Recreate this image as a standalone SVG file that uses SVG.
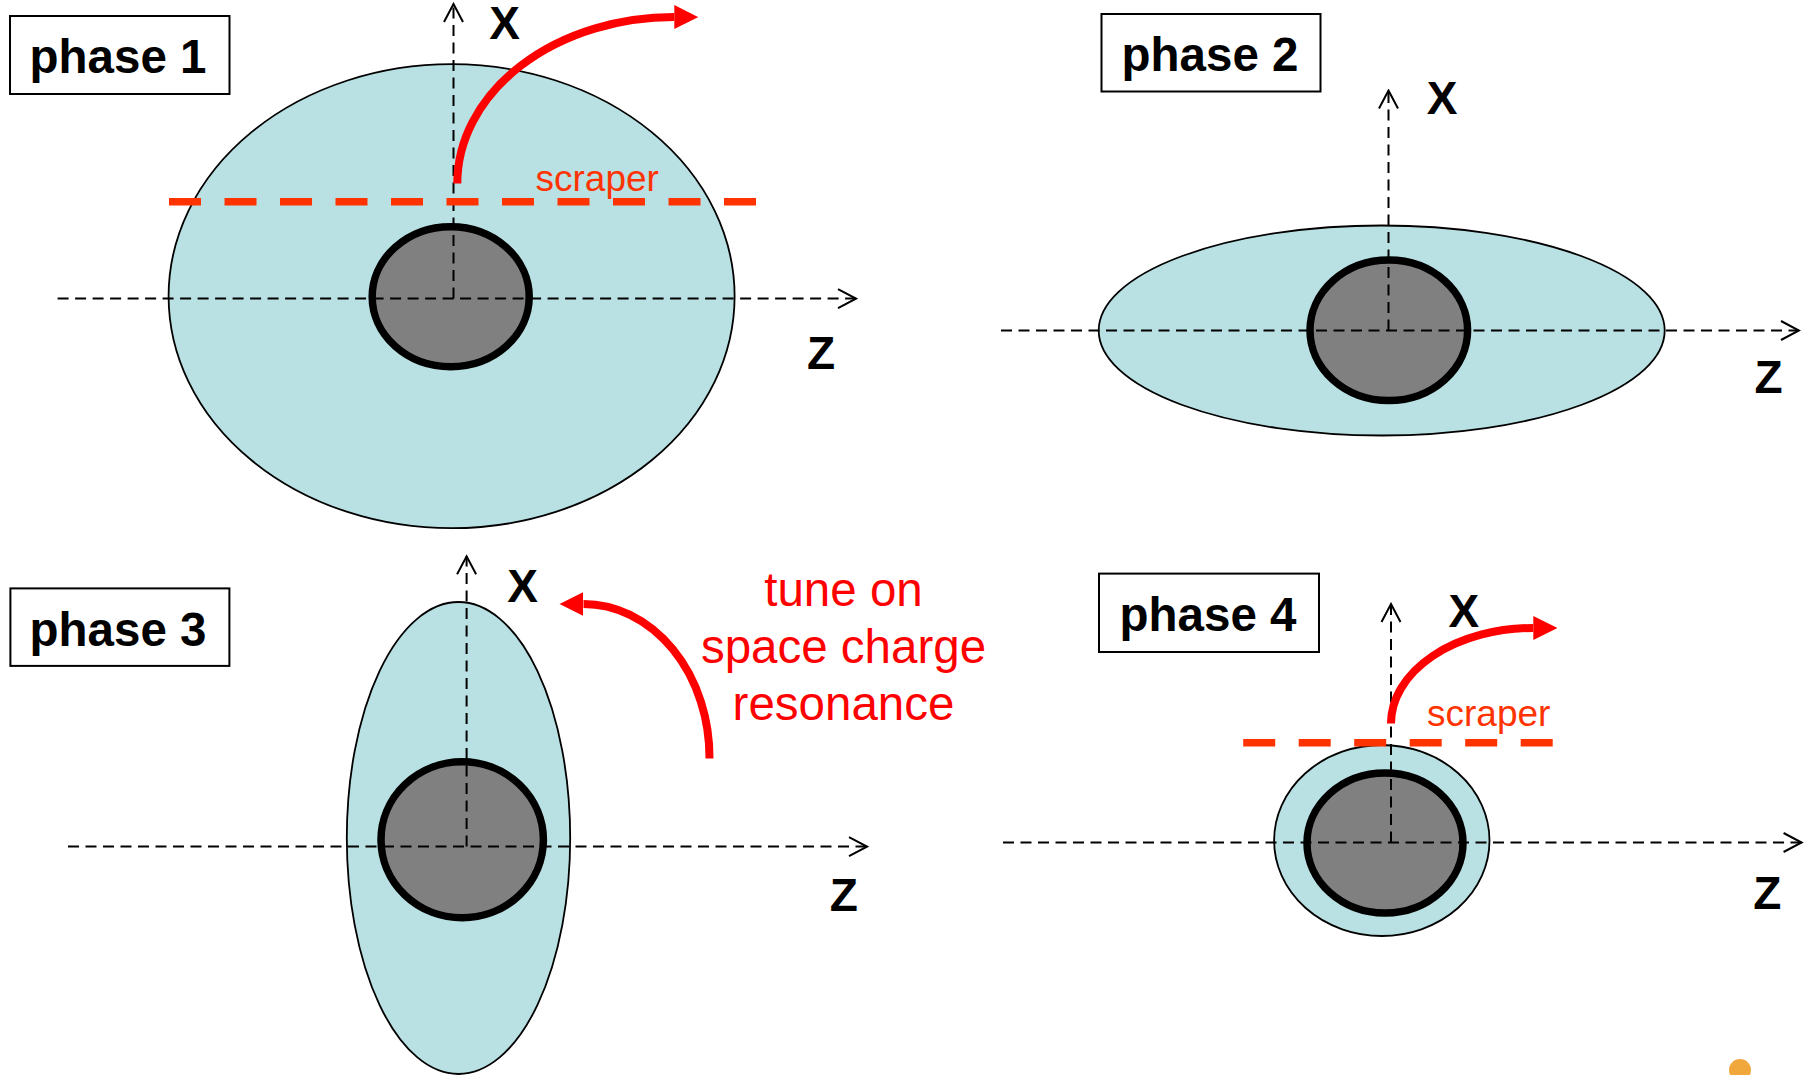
<svg xmlns="http://www.w3.org/2000/svg" width="1806" height="1075" viewBox="0 0 1806 1075">
<style>
.beam{fill:#B9E0E3;stroke:#000;stroke-width:1.8}
.core{fill:#808080;stroke:#000;stroke-width:7.5}
.axis{fill:none;stroke:#000;stroke-width:2;stroke-dasharray:11 6.5}
.box{fill:#fff;stroke:#000;stroke-width:2}
.plabel{font-family:"Liberation Sans",Arial,sans-serif;font-weight:bold;font-size:47.5px;fill:#000;text-anchor:middle}
.axlabel{font-family:"Liberation Sans",Arial,sans-serif;font-weight:bold;font-size:46px;fill:#000;text-anchor:middle}
.scraper{fill:none;stroke:#FF3300;stroke-width:7.5;stroke-dasharray:32 23.5}
.scrtext{font-family:"Liberation Sans",Arial,sans-serif;font-size:37px;fill:#FF3300}
.red{fill:none;stroke:#FF0000;stroke-width:8}
.note{font-family:"Liberation Sans",Arial,sans-serif;font-size:47.5px;fill:#FF0000;text-anchor:middle}
</style>
<defs>
<marker id="chev" markerUnits="userSpaceOnUse" viewBox="-20 -11 22 22" refX="0" refY="0" markerWidth="22" markerHeight="22" orient="auto">
<path d="M-18,-9.5 L0,0 L-18,9.5" fill="none" stroke="#000" stroke-width="2"/>
</marker>
<marker id="redhead" markerUnits="userSpaceOnUse" viewBox="0 0 24 24" refX="0" refY="12" markerWidth="24" markerHeight="24" orient="auto">
<path d="M0,0 L24,12 L0,24 z" fill="#FF0000"/>
</marker>
</defs>

<g id="phase1">
<ellipse class="beam" cx="451.6" cy="296.2" rx="283" ry="232"/>
<ellipse class="core" cx="450.7" cy="296.7" rx="78.5" ry="70"/>
<rect class="box" x="10" y="16" width="219.5" height="78"/>
<text class="plabel" x="118" y="72.5">phase 1</text>
<text class="axlabel" x="504.5" y="39.3">X</text>
<text class="axlabel" x="821" y="369">Z</text>
<text class="scrtext" x="535.5" y="191">scraper</text>
</g>

<g id="phase2">
<ellipse class="beam" cx="1381.7" cy="330.5" rx="283" ry="105"/>
<ellipse class="core" cx="1388.8" cy="330.3" rx="78.8" ry="70.2"/>
<rect class="box" x="1101.5" y="14" width="219" height="77.5"/>
<text class="plabel" x="1210" y="70.5">phase 2</text>
<text class="axlabel" x="1442.2" y="114.3">X</text>
<text class="axlabel" x="1768.5" y="392.6">Z</text>
</g>

<g id="phase3">
<ellipse class="beam" cx="458.5" cy="838" rx="111.7" ry="236"/>
<ellipse class="core" cx="462.2" cy="839.8" rx="81.2" ry="78"/>
<rect class="box" x="10.4" y="588.4" width="219" height="77.5"/>
<text class="plabel" x="118" y="645.5">phase 3</text>
<text class="axlabel" x="522.5" y="602">X</text>
<text class="axlabel" x="843.7" y="911">Z</text>
<text class="note" x="843.5" y="606">tune on</text>
<text class="note" x="843.5" y="663">space charge</text>
<text class="note" x="843.5" y="720">resonance</text>
</g>

<g id="phase4">
<ellipse class="beam" cx="1381.8" cy="840.5" rx="107.7" ry="95.5"/>
<ellipse class="core" cx="1385" cy="843" rx="78" ry="70"/>
<rect class="box" x="1099" y="573.6" width="220" height="78.4"/>
<text class="plabel" x="1208" y="630.5">phase 4</text>
<text class="axlabel" x="1463.8" y="626.7">X</text>
<text class="axlabel" x="1767.4" y="909.3">Z</text>
<text class="scrtext" x="1427" y="726">scraper</text>
</g>

<g id="connectors">
<line class="axis" x1="57.6" y1="298.6" x2="856" y2="298.6" marker-end="url(#chev)"/>
<line class="axis" x1="453.5" y1="298.6" x2="453.5" y2="4" marker-end="url(#chev)"/>
<line class="axis" x1="1001" y1="330.5" x2="1799" y2="330.5" marker-end="url(#chev)"/>
<line class="axis" x1="1388.5" y1="330.5" x2="1388.5" y2="90.5" marker-end="url(#chev)"/>
<line class="axis" x1="68" y1="846.6" x2="867" y2="846.6" marker-end="url(#chev)"/>
<line class="axis" x1="466.6" y1="846.6" x2="466.6" y2="556.3" marker-end="url(#chev)"/>
<line class="axis" x1="1003" y1="842.5" x2="1801.6" y2="842.5" marker-end="url(#chev)"/>
<line class="axis" x1="1391" y1="842.5" x2="1391" y2="604" marker-end="url(#chev)"/>
<line class="scraper" x1="169" y1="201.7" x2="758" y2="201.7"/>
<line class="scraper" x1="1243.2" y1="742.7" x2="1555.3" y2="742.7"/>
<path class="red" d="M457.3,183.5 A216.7,166.5 0 0 1 674.3,17" marker-end="url(#redhead)"/>
<path class="red" d="M709.5,758.5 A126,153.5 0 0 0 583.5,604" marker-end="url(#redhead)"/>
<path class="red" d="M1391,723.5 A142.3,95.5 0 0 1 1533.3,628" marker-end="url(#redhead)"/>
</g>

<circle cx="1740" cy="1070" r="11" fill="#F0A83C"/>
</svg>
